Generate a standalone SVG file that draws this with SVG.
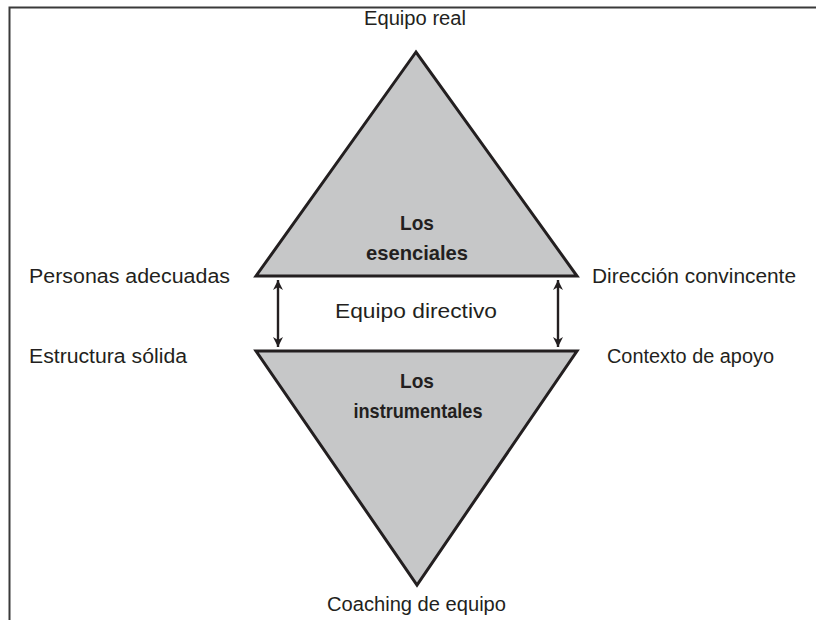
<svg xmlns="http://www.w3.org/2000/svg" width="816" height="620" viewBox="0 0 816 620">
<style>
.t{font-family:"Liberation Sans",Arial,sans-serif;font-size:20px;fill:#231f20}
.b{font-family:"Liberation Sans",Arial,sans-serif;font-size:21px;font-weight:bold;fill:#231f20;text-anchor:middle}
.tri{fill:#c6c7c8;stroke:#231f20;stroke-width:3;stroke-linejoin:miter}
.ar{stroke:#231f20;stroke-width:2.4;fill:none}
</style>
<defs>
<marker id="a" viewBox="0 0 10 10" refX="10" refY="5" markerWidth="12" markerHeight="10" orient="auto-start-reverse" markerUnits="userSpaceOnUse">
<path d="M0,0 L10,5 L0,10 L3,5 z" fill="#231f20"/>
</marker>
</defs>
<rect width="816" height="620" fill="#ffffff"/>
<path d="M9.5,620 V7.5 H816" fill="none" stroke="#3a3a3a" stroke-width="2"/>
<g id="top-triangle">
<polygon class="tri" points="416,52 256,276 577,276"/>
<text class="b" x="417" y="230" textLength="34" lengthAdjust="spacingAndGlyphs">Los</text>
<text class="b" x="417" y="260" textLength="102" lengthAdjust="spacingAndGlyphs">esenciales</text>
</g>
<g id="bottom-triangle">
<polygon class="tri" points="256,351 577,351 417,585"/>
<text class="b" x="417" y="388" textLength="34" lengthAdjust="spacingAndGlyphs">Los</text>
<text class="b" x="418" y="418" textLength="129" lengthAdjust="spacingAndGlyphs">instrumentales</text>
</g>
<g id="labels">
<text class="t" x="415" y="25" text-anchor="middle" textLength="102" lengthAdjust="spacingAndGlyphs">Equipo real</text>
<text class="t" x="29" y="283" textLength="201" lengthAdjust="spacingAndGlyphs">Personas adecuadas</text>
<text class="t" x="592" y="283" textLength="204" lengthAdjust="spacingAndGlyphs">Dirección convincente</text>
<text class="t" x="335" y="318" textLength="162" lengthAdjust="spacingAndGlyphs">Equipo directivo</text>
<text class="t" x="29" y="363" textLength="158" lengthAdjust="spacingAndGlyphs">Estructura sólida</text>
<text class="t" x="607" y="363" textLength="167" lengthAdjust="spacingAndGlyphs">Contexto de apoyo</text>
<text class="t" x="327" y="611" textLength="179" lengthAdjust="spacingAndGlyphs">Coaching de equipo</text>
</g>
<g id="connectors">
<line class="ar" x1="278" y1="280" x2="278" y2="347" marker-start="url(#a)" marker-end="url(#a)"/>
<line class="ar" x1="558" y1="280" x2="558" y2="347" marker-start="url(#a)" marker-end="url(#a)"/>
</g>
</svg>
